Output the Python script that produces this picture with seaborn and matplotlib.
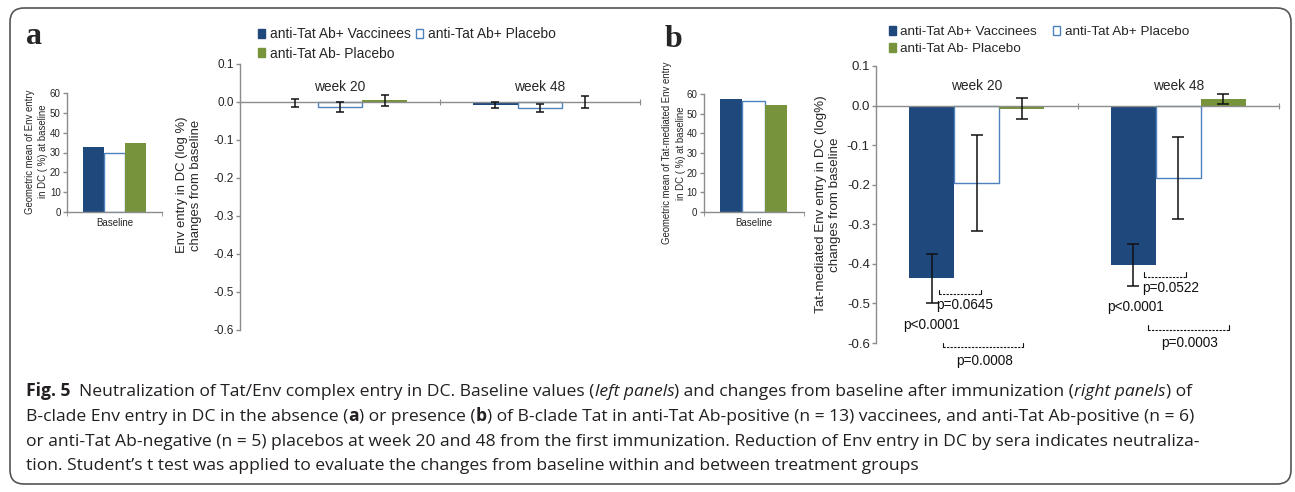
import matplotlib
matplotlib.use("Agg")
import matplotlib.pyplot as plt
from matplotlib import font_manager
from matplotlib.patches import Patch, FancyBboxPatch
from matplotlib.transforms import IdentityTransform
import numpy as np
import pandas as pd
import seaborn as sns

groups = ["anti-Tat Ab+ Vaccinees", "anti-Tat Ab+ Placebo", "anti-Tat Ab- Placebo"]
weeks = ["week 20", "week 48"]

# panel a: Env entry in DC (no Tat)
base_a = [33.0, 29.8, 34.8]
change_a_w20 = [-0.003, -0.012, 0.004]
change_a_w48 = [-0.008, -0.015, 0.0]
err_a_w20 = [0.011, 0.013, 0.015]
err_a_w48 = [0.008, 0.010, 0.016]

# panel b: Tat-mediated Env entry in DC
base_b = [57.5, 56.5, 54.5]
change_b_w20 = [-0.437, -0.195, -0.008]
change_b_w48 = [-0.402, -0.183, 0.016]
err_b_w20 = [0.062, 0.121, 0.026]
err_b_w48 = [0.053, 0.103, 0.013]

# p-value brackets of panel b: (x start, x end, y)
brackets_b = [(-0.187, 0.021, -0.477), (-0.167, 0.229, -0.611),
              (0.830, 1.038, -0.432), (0.850, 1.252, -0.566)]
pvalue_labels_b = [("p=0.0645", -0.199, -0.505), ("p<0.0001", -0.367, -0.555),
                   ("p=0.0008", -0.103, -0.646), ("p=0.0522", 0.819, -0.461),
                   ("p<0.0001", 0.648, -0.509), ("p=0.0003", 0.913, -0.600)]

caption_lines = [
    [("Fig. 5", "bold", "normal"),
     ("  Neutralization of Tat/Env complex entry in DC. Baseline values (", "normal", "normal"),
     ("left panels", "normal", "italic"),
     (") and changes from baseline after immunization (", "normal", "normal"),
     ("right panels", "normal", "italic"),
     (") of", "normal", "normal")],
    [("B-clade Env entry in DC in the absence (", "normal", "normal"),
     ("a", "bold", "normal"),
     (") or presence (", "normal", "normal"),
     ("b", "bold", "normal"),
     (") of B-clade Tat in anti-Tat Ab-positive (n = 13) vaccinees, and anti-Tat Ab-positive (n = 6)",
      "normal", "normal")],
    [("or anti-Tat Ab-negative (n = 5) placebos at week 20 and 48 from the first immunization. "
      "Reduction of Env entry in DC by sera indicates neutraliza-", "normal", "normal")],
    [("tion. Student\u2019s t test was applied to evaluate the changes from baseline within "
      "and between treatment groups", "normal", "normal")],
]
caption_line_ends = [1150, 1285, 1260, 800]

DARK = "#1f497d"
OPEN = "#4f81bd"
GREEN = "#77933c"
AXIS = "#8c8c8c"
palette = {groups[0]: DARK, groups[1]: "white", groups[2]: GREEN}

sns.set_style("white")
plt.rcParams["font.family"] = ["Liberation Sans", "DejaVu Sans"]

W, H = 1295, 492
fig = plt.figure(figsize=(W / 100, H / 100), dpi=100)


def box(l, t, w, h):
    return [l / W, 1 - (t + h) / H, w / W, h / H]


def style_bars(ax):
    bars = sorted(ax.patches, key=lambda p: p.get_x())
    for i, p in enumerate(bars):
        if i % 3 == 1:
            p.set_facecolor("white")
            p.set_edgecolor(OPEN)
            p.set_linewidth(1.0)
        else:
            p.set_edgecolor("none")
    return bars


def style_axis(ax, tick_size):
    for s in ["top", "right"]:
        ax.spines[s].set_visible(False)
    for s in ["left", "bottom"]:
        ax.spines[s].set_color(AXIS)
        ax.spines[s].set_linewidth(1.0)
    ax.tick_params(axis="y", colors=AXIS, labelcolor="#262626", labelsize=tick_size,
                   length=3, width=1, pad=1.5, left=True)
    ax.set_facecolor("none")


def draw_base(ax, vals, ylabel, label_x, label_y):
    df = pd.DataFrame({"stage": ["Baseline"] * 3, "group": groups, "value": vals})
    sns.barplot(data=df, x="stage", y="value", hue="group", hue_order=groups,
                palette=palette, width=0.67, gap=0, saturation=1, errorbar=None,
                legend=False, ax=ax)
    style_bars(ax)
    style_axis(ax, 7)
    ax.set_xlim(-0.5, 0.5)
    ax.set_ylim(0, 60)
    ax.set_yticks(range(0, 61, 10))
    ax.set_xticks([0], ["Baseline"])
    ax.set_xticks([-0.5, 0.5], minor=True)
    ax.tick_params(axis="x", which="major", length=0, labelsize=7, pad=4, labelcolor="#262626")
    ax.tick_params(axis="x", which="minor", length=3, colors=AXIS, bottom=True)
    ax.set_xlabel("")
    ax.set_ylabel(ylabel, fontsize=6.9, color="#262626", linespacing=1.4)
    ax.yaxis.set_label_coords(label_x, label_y)


def draw_change(ax, vals20, vals48, errs20, errs48, ylabel, tick_size, week_y,
                label_x, label_y, ylabel_size, capsize):
    df = pd.DataFrame({"week": np.repeat(weeks, 3), "group": groups * 2,
                       "change": vals20 + vals48})
    sns.barplot(data=df, x="week", y="change", hue="group", hue_order=groups,
                order=weeks, palette=palette, width=0.67, gap=0, saturation=1,
                errorbar=None, legend=False, ax=ax)
    bars = style_bars(ax)
    xs = [p.get_x() + p.get_width() / 2 for p in bars]
    ax.errorbar(xs, vals20 + vals48, yerr=errs20 + errs48, fmt="none", ecolor="#111111",
                elinewidth=1.1, capsize=capsize, capthick=1.1, zorder=5)
    style_axis(ax, tick_size)
    ax.spines["bottom"].set_position(("data", 0))
    ax.set_xlim(-0.5, 1.5)
    ax.set_ylim(-0.6, 0.1)
    ticks = [-0.6, -0.5, -0.4, -0.3, -0.2, -0.1, 0.0, 0.1]
    ax.set_yticks(ticks, [f"{t + 0.0:.1f}" for t in ticks])
    ax.set_xticks([-0.5, 0.5, 1.5], ["", "", ""])
    ax.tick_params(axis="x", direction="inout", length=5, colors=AXIS, bottom=True)
    ax.set_xlabel("")
    ax.set_ylabel(ylabel, fontsize=ylabel_size, color="#262626", linespacing=1.2)
    ax.yaxis.set_label_coords(label_x, label_y)
    for i, w in enumerate(weeks):
        ax.text(i, week_y, w, ha="center", va="center", fontsize=9.9, color="#262626")


# legend order so that rows read: Vaccinees, Ab+ Placebo / Ab- Placebo
legend_order = [0, 2, 1]
all_handles = [Patch(facecolor=DARK, edgecolor=DARK),
               Patch(facecolor="white", edgecolor=OPEN, linewidth=1.0),
               Patch(facecolor=GREEN, edgecolor=GREEN)]
legend_handles = [all_handles[i] for i in legend_order]
legend_labels = [groups[i] for i in legend_order]

# ---- panel a ----
ax_a0 = fig.add_axes(box(67, 93, 95, 119))
draw_base(ax_a0, base_a, "Geometric mean of Env entry\nin DC ( %) at baseline", -0.2, 0.51)

ax_a1 = fig.add_axes(box(240, 64, 400, 266))
draw_change(ax_a1, change_a_w20, change_a_w48, err_a_w20, err_a_w48,
            "Env entry in DC (log %)\nchanges from baseline", 8.5, 0.039, -0.095, 0.545, 9.4, 3)
fig.legend(legend_handles, legend_labels, loc="upper left",
           bbox_to_anchor=(258 / W, 1 - 27 / H),
           ncol=2, frameon=False, fontsize=10, handlelength=0.5, handleheight=0.6,
           handletextpad=0.35, columnspacing=0.4, labelspacing=0.4, borderpad=0,
           borderaxespad=0)

# ---- panel b ----
ax_b0 = fig.add_axes(box(703.5, 94, 100, 118))
draw_base(ax_b0, base_b, "Geometric mean of Tat-mediated Env entry\nin DC ( %) at baseline",
          -0.18, 0.5)

ax_b1 = fig.add_axes(box(876, 66, 403, 277))
draw_change(ax_b1, change_b_w20, change_b_w48, err_b_w20, err_b_w48,
            "Tat-mediated Env entry in DC (log%)\nchanges from baseline", 9.5, 0.05,
            -0.087, 0.5, 9.6, 4)
for x0, x1, y in brackets_b:
    ax_b1.plot([x0, x1], [y, y], color="#111111", lw=0.8, ls=(0, (2, 1.2)), clip_on=False)
    ax_b1.plot([x0, x0], [y, y + 0.011], color="#111111", lw=0.8, clip_on=False)
    ax_b1.plot([x1, x1], [y, y + 0.011], color="#111111", lw=0.8, clip_on=False)
for txt, x, y in pvalue_labels_b:
    ax_b1.text(x, y, txt, ha="left", va="center", fontsize=9.8, color="#111111", clip_on=False)
fig.legend(legend_handles, legend_labels, loc="upper left",
           bbox_to_anchor=(889 / W, 1 - 26 / H),
           ncol=2, frameon=False, fontsize=9.7, handlelength=0.5, handleheight=0.6,
           handletextpad=0.35, columnspacing=1.2, labelspacing=0.4, borderpad=0,
           borderaxespad=0)

# panel letters
fig.text(26 / W, 1 - 44 / H, "a", family=["Liberation Serif", "DejaVu Serif"],
         weight="bold", fontsize=23, va="baseline")
fig.text(665 / W, 1 - 47 / H, "b", family=["Liberation Serif", "DejaVu Serif"],
         weight="bold", fontsize=23, va="baseline")

# ---- caption ----
names = {f.name for f in font_manager.fontManager.ttflist}
cap_family = ["Liberation Sans Narrow"] if "Liberation Sans Narrow" in names else ["Open Sans"]
cap_family = cap_family + ["DejaVu Sans"]
renderer = fig.canvas.get_renderer()


def piece_width(s, size, weight, style):
    t = fig.text(0, 0, s + "|", fontsize=size, family=cap_family, weight=weight, style=style)
    w1 = t.get_window_extent(renderer).width
    t.set_text("|")
    w2 = t.get_window_extent(renderer).width
    t.remove()
    return w1 - w2


# one font size for the whole caption, fitted to the total length of its lines
probe = 10.0
drawn = sum(piece_width(s, probe, wt, st) for line in caption_lines for s, wt, st in line)
wanted = sum(end - 26 for end in caption_line_ends)
cap_size = probe * wanted / drawn

baselines = [396, 421, 446, 470]
for line, yb in zip(caption_lines, baselines):
    x = 26
    for s, wt, st in line:
        fig.text(x / W, 1 - yb / H, s, fontsize=cap_size, family=cap_family, weight=wt,
                 style=st, va="baseline", ha="left", color="#231f20")
        x += piece_width(s, cap_size, wt, st)

# rounded frame round the whole figure
fig.patches.append(FancyBboxPatch((10, H - 484), 1281, 476,
                                  boxstyle="round,pad=0,rounding_size=14",
                                  transform=IdentityTransform(), fill=False,
                                  edgecolor="#555555", linewidth=1.2))

fig.savefig("out.png", dpi=100)
